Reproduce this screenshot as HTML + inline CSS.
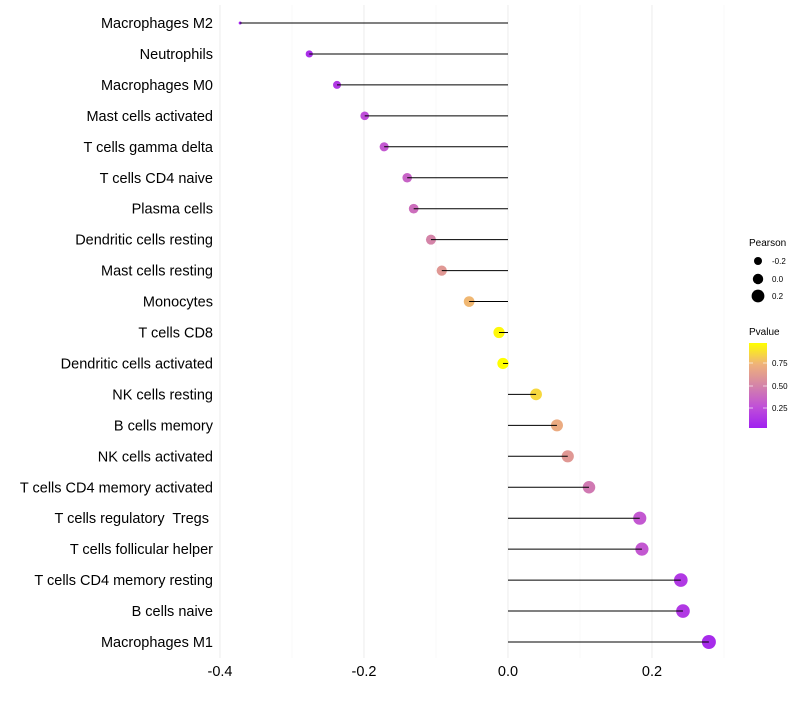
<!DOCTYPE html>
<html><head><meta charset="utf-8"><style>
body{margin:0;background:#fff;font-family:"Liberation Sans",sans-serif}
text{white-space:pre}
</style></head><body>
<svg id="c" width="800" height="700" xmlns="http://www.w3.org/2000/svg">
<defs><linearGradient id="pg" x1="0" y1="1" x2="0" y2="0">
<stop offset="0" stop-color="#a020f0"/><stop offset="0.25" stop-color="#c050d8"/><stop offset="0.5" stop-color="#d484a8"/><stop offset="0.75" stop-color="#efb27a"/><stop offset="1" stop-color="#ffff00"/></linearGradient></defs>
<g id="grid"></g><g id="dots"></g><g id="marks"></g><g id="labels"></g>
<g>
<text x="749" y="246" font-size="10" fill="#000">Pearson</text>
<circle cx="758" cy="261" r="4" fill="#000"/><text x="772" y="264" font-size="8">-0.2</text>
<circle cx="758" cy="279" r="5.2" fill="#000"/><text x="772" y="282" font-size="8">0.0</text>
<circle cx="758" cy="296" r="6.4" fill="#000"/><text x="772" y="299" font-size="8">0.2</text>
</g>
<g>
<text x="749" y="335" font-size="10">Pvalue</text>
<rect x="749" y="343" width="18" height="85" fill="url(#pg)"/>
<g stroke="#fff" stroke-width="0.8" opacity="0.8"><line x1="749" x2="753" y1="363" y2="363"/><line x1="763" x2="767" y1="363" y2="363"/><line x1="749" x2="753" y1="386" y2="386"/><line x1="763" x2="767" y1="386" y2="386"/><line x1="749" x2="753" y1="408" y2="408"/><line x1="763" x2="767" y1="408" y2="408"/></g>
<text x="772" y="366" font-size="8">0.75</text><text x="772" y="389" font-size="8">0.50</text><text x="772" y="411" font-size="8">0.25</text>
</g>
</svg>
<script>
const cells=["Macrophages M2","Neutrophils","Macrophages M0","Mast cells activated","T cells gamma delta","T cells CD4 naive","Plasma cells","Dendritic cells resting","Mast cells resting","Monocytes","T cells CD8","Dendritic cells activated","NK cells resting","B cells memory","NK cells activated","T cells CD4 memory activated","T cells regulatory  Tregs ","T cells follicular helper","T cells CD4 memory resting","B cells naive","Macrophages M1"];
const pearson=[-0.372,-0.276,-0.2375,-0.199,-0.172,-0.140,-0.131,-0.107,-0.092,-0.054,-0.0125,-0.007,0.039,0.068,0.083,0.1125,0.183,0.186,0.240,0.243,0.279];
const pvalue=[0.05,0.1,0.15,0.25,0.3,0.35,0.4,0.5,0.6,0.75,0.95,0.98,0.85,0.7,0.6,0.45,0.3,0.3,0.15,0.15,0.08];
const ticks=[-0.4,-0.2,0.0,0.2];
const minor=[-0.3,-0.1,0.1,0.3];
const ns="http://www.w3.org/2000/svg";
const X=v=>508+v*720, Y=i=>23+i*30.95;
function mk(t,a,p){const e=document.createElementNS(ns,t);for(const k in a)e.setAttribute(k,a[k]);p.appendChild(e);return e;}
const stops=[[0,[160,32,240]],[0.25,[192,80,216]],[0.5,[212,132,168]],[0.75,[239,178,122]],[1,[255,255,0]]];
function col(p){const t=Math.max(0,Math.min(1,(p-0.028)/(0.97-0.028)));for(let i=1;i<stops.length;i++){if(t<=stops[i][0]){const a=stops[i-1],b=stops[i],f=(t-a[0])/(b[0]-a[0]);return "rgb("+a[1].map((c,j)=>Math.round(c+(b[1][j]-c)*f)).join(",")+")";}}return "rgb(255,255,0)";}
const g=document.getElementById('grid'),m=document.getElementById('marks'),dg=document.getElementById('dots'),l=document.getElementById('labels');
minor.forEach(v=>{const e=mk('line',{x1:X(v),x2:X(v),y1:5,y2:658,stroke:'#f4f4f4','stroke-width':0.6},g);

});
ticks.forEach(v=>{const e=mk('line',{x1:X(v),x2:X(v),y1:5,y2:658,stroke:'#ededed','stroke-width':1.1},g);


const t=mk('text',{x:X(v),y:676,'font-size':14.5,'text-anchor':'middle',fill:'#000'},l);t.textContent=v.toFixed(1);

});
cells.forEach((c,i)=>{const y=Y(i);
const s=mk('line',{x1:X(0),x2:X(pearson[i]),y1:y,y2:y,stroke:'#000','stroke-width':1},m);


const tt=Math.max(0,(pearson[i]+0.372)/0.651);
const r=1.5+Math.sqrt(tt)*5.5;
const d=mk('circle',{cx:X(pearson[i]),cy:y,r:r,fill:col(pvalue[i])},dg);


const t=mk('text',{x:213,y:y+5,'font-size':14.5,'text-anchor':'end',fill:'#000'},l);t.textContent=c;

});
</script>
</body></html>
